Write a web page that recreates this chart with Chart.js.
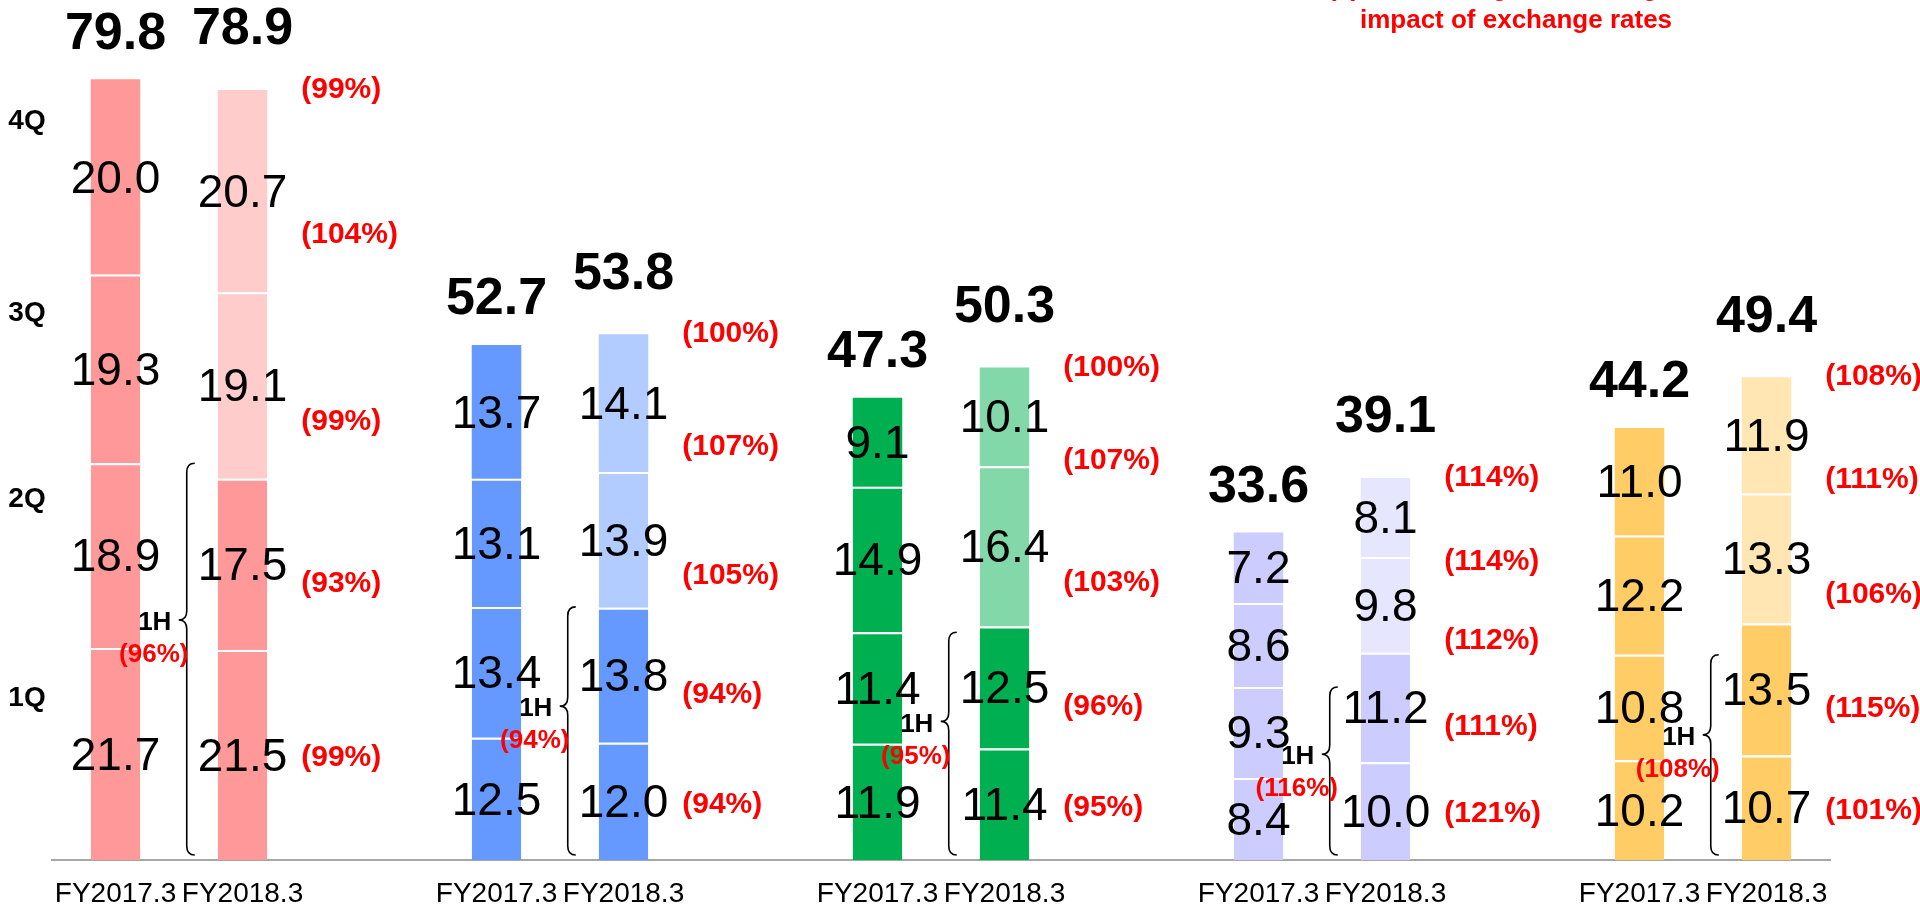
<!DOCTYPE html>
<html>
<head>
<meta charset="utf-8">
<title>Quarterly results by segment</title>
<style>
  html, body { margin: 0; padding: 0; background: #fff; overflow: hidden; }
  #wrap { width: 1920px; height: 909px; }
</style>
</head>
<body>
<div id="wrap"><canvas id="chart_quarters" width="1920" height="909"></canvas></div>
<script src="https://cdn.jsdelivr.net/npm/chart.js@4/dist/chart.umd.min.js"></script>
<script>
// quarterly values per segment group (5 groups)
var periods = ['FY2017.3', 'FY2018.3'];
var quarters = ['1Q', '2Q', '3Q', '4Q'];

var prevQ1 = [21.7, 12.5, 11.9, 8.4, 10.2];
var prevQ2 = [18.9, 13.4, 11.4, 9.3, 10.8];
var prevQ3 = [19.3, 13.1, 14.9, 8.6, 12.2];
var prevQ4 = [20.0, 13.7, 9.1, 7.2, 11.0];

var currQ1 = [21.5, 12.0, 11.4, 10.0, 10.7];
var currQ2 = [17.5, 13.8, 12.5, 11.2, 13.5];
var currQ3 = [19.1, 13.9, 16.4, 9.8, 13.3];
var currQ4 = [20.7, 14.1, 10.1, 8.1, 11.9];

var prevTotal = [79.8, 52.7, 47.3, 33.6, 44.2];
var currTotal = [78.9, 53.8, 50.3, 39.1, 49.4];

// YoY % (excluding exchange rates)
var yoyQ1 = [99, 94, 95, 121, 101];
var yoyQ2 = [93, 94, 96, 111, 115];
var yoyQ3 = [99, 105, 103, 112, 106];
var yoyQ4 = [104, 107, 107, 114, 111];
var yoyTotal = [99, 100, 100, 114, 108];
var yoy1H = [96, 94, 95, 116, 108];

var noteLines = ['(  ): YoY change, excluding the', 'impact of exchange rates'];

var groupColors = ['#FF9999', '#6699FF', '#00B050', '#CCCCFF', '#FFCC66'];
var groupLight  = ['#FFCCCC', '#B3CCFF', '#82D8A8', '#E6E6FF', '#FFE6B3'];

var FONT = "'Liberation Sans', Arial, sans-serif";

// slots: FY2017.3, FY2018.3, gap, FY2017.3, FY2018.3, gap ...
var nGroups = prevTotal.length;
var slotLabels = [], slotGroup = [], slotPeriod = [];
for (var g = 0; g < nGroups; g++) {
  slotLabels.push(periods[0], periods[1]);
  slotGroup.push(g, g);
  slotPeriod.push(0, 1);
  if (g < nGroups - 1) {
    slotLabels.push('');
    slotGroup.push(-1);
    slotPeriod.push(-1);
  }
}

var prevQ = [prevQ1, prevQ2, prevQ3, prevQ4];
var currQ = [currQ1, currQ2, currQ3, currQ4];
var yoyQ = [yoyQ1, yoyQ2, yoyQ3, yoyQ4];

function slotData(q) {
  return slotLabels.map(function (l, i) {
    if (slotGroup[i] < 0) return null;
    return slotPeriod[i] === 0 ? prevQ[q][slotGroup[i]] : currQ[q][slotGroup[i]];
  });
}

function slotColor(q) {
  return slotLabels.map(function (l, i) {
    var grp = slotGroup[i];
    if (grp < 0) return 'rgba(0,0,0,0)';
    if (slotPeriod[i] === 1 && q >= 2) return groupLight[grp];
    return groupColors[grp];
  });
}

var datasets = quarters.map(function (q, k) {
  return {
    label: q,
    data: slotData(k),
    backgroundColor: slotColor(k),
    borderColor: '#ffffff',
    borderWidth: k < 3 ? { top: 2, left: 0, right: 0, bottom: 0 } : 0,
    borderSkipped: 'start',
    categoryPercentage: 1.0,
    barPercentage: 0.39
  };
});

function pct(v) { return '(' + v + '%)'; }

function drawBrace(ctx, x, top, bottom) {
  var tip = top + (bottom - top) * 0.4;
  var w = 8, r = 9;
  ctx.beginPath();
  ctx.moveTo(x + w, top);
  ctx.quadraticCurveTo(x, top, x, top + r);
  ctx.lineTo(x, tip - r);
  ctx.quadraticCurveTo(x, tip, x - w, tip);
  ctx.quadraticCurveTo(x, tip, x, tip + r);
  ctx.lineTo(x, bottom - r);
  ctx.quadraticCurveTo(x, bottom, x + w, bottom);
  ctx.stroke();
  return tip;
}

var labelPlugin = {
  id: 'labelPlugin',
  afterDatasetsDraw: function (chart) {
    var ctx = chart.ctx;
    var area = chart.chartArea;
    var yScale = chart.scales.y;
    var metas = quarters.map(function (q, k) { return chart.getDatasetMeta(k); });
    ctx.save();
    ctx.textBaseline = 'middle';

    // segment values
    ctx.fillStyle = '#000';
    ctx.textAlign = 'center';
    ctx.font = '46px ' + FONT;
    slotLabels.forEach(function (l, i) {
      if (slotGroup[i] < 0) return;
      metas.forEach(function (m, k) {
        var el = m.data[i];
        var v = chart.data.datasets[k].data[i];
        ctx.fillText(v.toFixed(1), el.x, (el.y + el.base) / 2 + 3);
      });
    });

    // totals above bars
    ctx.font = 'bold 52px ' + FONT;
    slotLabels.forEach(function (l, i) {
      var grp = slotGroup[i];
      if (grp < 0) return;
      var top = metas[3].data[i];
      var tot = slotPeriod[i] === 0 ? prevTotal[grp] : currTotal[grp];
      var lift = slotPeriod[i] === 0 ? 45 : 60;
      ctx.fillText(tot.toFixed(1), top.x, top.y - lift);
    });

    // quarter names on the left, next to the first bar
    ctx.font = 'bold 28px ' + FONT;
    quarters.forEach(function (q, k) {
      var el = metas[k].data[0];
      ctx.fillText(q, area.left - 25, (el.y + el.base) / 2 - 56);
    });

    // YoY labels right of FY2018.3 bars
    var qShift = [3, 19, 36, 44];
    ctx.fillStyle = '#FF0000';
    ctx.textAlign = 'left';
    ctx.font = 'bold 30px ' + FONT;
    slotLabels.forEach(function (l, i) {
      var grp = slotGroup[i];
      if (grp < 0 || slotPeriod[i] !== 1) return;
      var el0 = metas[0].data[i];
      var lx = el0.x + el0.width / 2 + 34;
      metas.forEach(function (m, k) {
        var el = m.data[i];
        ctx.fillText(pct(yoyQ[k][grp]), lx, (el.y + el.base) / 2 + qShift[k]);
      });
      ctx.fillText(pct(yoyTotal[grp]), lx, metas[3].data[i].y);
    });

    // 1H braces between the two bars
    ctx.strokeStyle = '#000';
    ctx.lineWidth = 1.6;
    slotLabels.forEach(function (l, i) {
      var grp = slotGroup[i];
      if (grp < 0 || slotPeriod[i] !== 0) return;
      var a = metas[0].data[i], b = metas[0].data[i + 1];
      var r1 = a.x + a.width / 2, l2 = b.x - b.width / 2;
      var bx = r1 + (l2 - r1) * 0.6;
      var top = yScale.getPixelForValue(prevQ1[grp] + prevQ2[grp]);
      var tip = drawBrace(ctx, bx, top, area.bottom - 5);
      ctx.textAlign = 'center';
      ctx.fillStyle = '#000';
      ctx.font = 'bold 26px ' + FONT;
      ctx.fillText('1H', bx - 32, tip + 3);
      ctx.fillStyle = '#FF0000';
      ctx.fillText(pct(yoy1H[grp]), bx - 33, tip + 35);
    });

    // note at top right
    ctx.fillStyle = '#FF0000';
    ctx.textAlign = 'center';
    ctx.font = 'bold 26px ' + FONT;
    ctx.fillText(noteLines[0], 1516, -11);
    ctx.fillText(noteLines[1], 1516, 21);
    ctx.restore();
  }
};

var ctx = document.getElementById('chart_quarters').getContext('2d');
var barChart = new Chart(ctx, {
  type: 'bar',
  data: { labels: slotLabels, datasets: datasets },
  plugins: [labelPlugin],
  options: {
    responsive: false,
    animation: false,
    devicePixelRatio: 1,
    layout: { padding: { left: 52, right: 90, top: 0, bottom: 0 } },
    plugins: { legend: { display: false }, tooltip: { enabled: false } },
    scales: {
      x: {
        stacked: true,
        grid: { display: false, drawTicks: false },
        border: { display: true, color: '#A6A6A6', width: 2 },
        ticks: {
          autoSkip: false,
          maxRotation: 0,
          padding: 17,
          color: '#000',
          font: { family: FONT, size: 28 }
        },
        afterFit: function (scale) { scale.height = 49; }
      },
      y: {
        stacked: true,
        display: false,
        min: 0,
        max: 88
      }
    }
  }
});
</script>
</body>
</html>
